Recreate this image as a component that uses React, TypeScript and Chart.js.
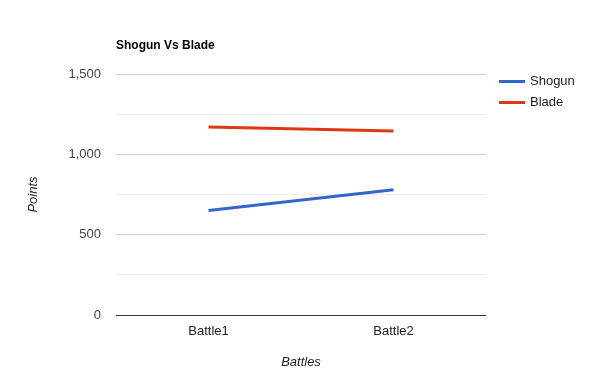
import React, { useEffect, useRef } from "react";
import { Chart, registerables } from "chart.js";

Chart.register(...registerables);

const categories = ["Battle1", "Battle2"];
const shogunValues = [650, 780];
const bladeValues = [1170, 1145];
const seriesNames = ["Shogun", "Blade"];
const seriesColors = ["#3366cc", "#dc3912"];
const chartTitle = "Shogun Vs Blade";
const xTitle = "Battles";
const yTitle = "Points";

const FONT = "Arial, 'Liberation Sans', sans-serif";

const overlayPlugin = {
  id: "overlay",
  afterDraw(chart: any) {
    const ctx = chart.ctx;
    const area = chart.chartArea;
    ctx.save();
    // title
    ctx.fillStyle = "#000";
    ctx.font = `bold 12px ${FONT}`;
    ctx.textAlign = "left";
    ctx.textBaseline = "middle";
    ctx.fillText(chartTitle, area.left, 46);
    // legend
    ctx.font = `13px ${FONT}`;
    seriesNames.forEach((name, i) => {
      const y = 81.5 + i * 21;
      ctx.strokeStyle = seriesColors[i];
      ctx.lineWidth = 3;
      ctx.beginPath();
      ctx.moveTo(499, y);
      ctx.lineTo(525, y);
      ctx.stroke();
      ctx.fillStyle = "#222";
      ctx.textAlign = "left";
      ctx.textBaseline = "middle";
      ctx.fillText(name, 530, y);
    });
    // axis titles
    ctx.font = `italic 13px ${FONT}`;
    ctx.fillStyle = "#222";
    ctx.textAlign = "center";
    ctx.textBaseline = "middle";
    ctx.fillText(xTitle, (area.left + area.right) / 2, 362);
    ctx.translate(33, (area.top + area.bottom) / 2);
    ctx.rotate(-Math.PI / 2);
    ctx.fillText(yTitle, 0, 0);
    ctx.restore();
  },
};

export default function App() {
  const ref = useRef<HTMLCanvasElement | null>(null);
  useEffect(() => {
    if (!ref.current) return;
    const chart = new Chart(ref.current, {
      type: "line",
      data: {
        labels: categories,
        datasets: [
          {
            label: seriesNames[0],
            data: shogunValues,
            borderColor: seriesColors[0],
            backgroundColor: seriesColors[0],
            borderWidth: 3,
            pointRadius: 0,
            tension: 0,
          },
          {
            label: seriesNames[1],
            data: bladeValues,
            borderColor: seriesColors[1],
            backgroundColor: seriesColors[1],
            borderWidth: 3,
            pointRadius: 0,
            tension: 0,
          },
        ],
      },
      options: {
        animation: false,
        responsive: false,
        devicePixelRatio: 1,
        layout: { padding: { left: 0, top: 74, right: 114, bottom: 0 } },
        plugins: {
          legend: { display: false },
          title: { display: false },
          tooltip: { enabled: false },
        },
        scales: {
          x: {
            offset: true,
            grid: { display: false, drawTicks: false },
            border: { display: false },
            ticks: {
              color: "#222",
              font: { family: FONT, size: 13 },
              padding: 9,
            },
            afterFit: (s: any) => {
              s.height = 75;
            },
          },
          y: {
            min: 0,
            max: 1500,
            border: { display: false },
            grid: {
              drawTicks: false,
              color: (c: any) => {
                const v = c.tick ? c.tick.value : 0;
                if (v === 0) return "#333333";
                return v % 500 === 0 ? "#cccccc" : "#ebebeb";
              },
              lineWidth: 1,
            },
            ticks: {
              stepSize: 250,
              color: "#444",
              font: { family: FONT, size: 13 },
              padding: 15,
              callback: (v: any) =>
                Number(v) % 500 === 0 ? Number(v).toLocaleString("en-US") : "",
            },
            afterFit: (s: any) => {
              s.width = 116;
            },
          },
        },
      },
      plugins: [overlayPlugin],
    });
    return () => chart.destroy();
  }, []);
  return (
    <div style={{ position: "absolute", left: 0, top: 0, width: 600, height: 390, background: "#fff" }}>
      <canvas ref={ref} width={600} height={390} style={{ width: 600, height: 390 }} />
    </div>
  );
}
